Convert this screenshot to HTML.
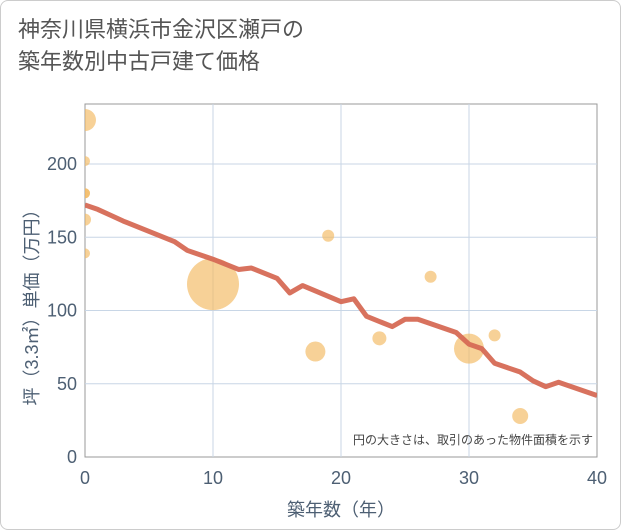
<!DOCTYPE html>
<html><head><meta charset="utf-8"><style>
body{margin:0;background:#fff;}
#wrap{position:relative;width:621px;height:530px;box-sizing:border-box;border:1px solid #ccc;border-radius:8px;overflow:hidden;font-family:"Liberation Sans","Noto Sans CJK JP",sans-serif;}
#title{position:absolute;left:17px;top:13px;font-size:22px;line-height:32px;color:#555;}
svg{position:absolute;left:0;top:0}
</style></head><body>
<div id="wrap">
<div id="title">神奈川県横浜市金沢区瀬戸の<br>築年数別中古戸建て価格</div>
<svg id="chart" width="621" height="530"><defs><clipPath id="pc"><rect x="84" y="103" width="512" height="353"/></clipPath></defs></svg>
</div>
<script>
const xTicks=[0,10,20,30,40];
const yTicks=[0,50,100,150,200];
const lineX=[0,1,2,3,7,8,10,12,13,15,16,17,20,21,22,24,25,26,29,30,31,32,34,35,36,37,40];
const lineY=[172,169,165,161,147,141,135,128,129,122,112,117,106,108,96,89,94,94,85,77,74,64,58,52,48,51,42];
const bubX=[0,0,0,0,0,0,10,18,19,23,27,30,32,34];
const bubY=[230,202,180,180,162,139,118,72,151,81,123,74,83,28];
const bubSize=[121,25,25,25,36,25,676,100,36,49,36,225,36,64];
const NS="http://www.w3.org/2000/svg";
const svg=document.getElementById('chart');
const X0=84,X1=596,Y0=456,YT=103;
const sx=v=>X0+(X1-X0)*v/40;
const sy=v=>Y0-v*(Y0-163)/200;
function mk(t,a,p){const e=document.createElementNS(NS,t);for(const k in a)e.setAttribute(k,a[k]);(p||svg).appendChild(e);return e;}
const bg=mk('rect',{x:X0,y:YT,width:X1-X0,height:Y0-YT,fill:'#fff',stroke:'#999','stroke-width':1});


xTicks.forEach(t=>{
 if(t>0&&t<40){const g=mk('line',{x1:sx(t),x2:sx(t),y1:YT,y2:Y0,stroke:'#c8d6e6','stroke-width':1});
 
 }
 const l=mk('text',{x:sx(t),y:Y0+27,'text-anchor':'middle','font-size':18,fill:'#4d5f73'});
 l.textContent=t;
 
 
});
yTicks.forEach(t=>{
 if(t>0){const g=mk('line',{x1:X0,x2:X1,y1:sy(t),y2:sy(t),stroke:'#c8d6e6','stroke-width':1});
 
 }
 const l=mk('text',{x:X0-8,y:sy(t)+6,'text-anchor':'end','font-size':18,fill:'#4d5f73'});
 l.textContent=t;
 
 
});
const grp=mk('g',{'clip-path':'url(#pc)'});


bubX.forEach((v,i)=>{
 const c=mk('circle',{cx:sx(v),cy:sy(bubY[i]),r:Math.sqrt(bubSize[i]),fill:'rgba(243,184,96,0.65)'},grp);
 
 
});
const pl=mk('polyline',{points:lineX.map((v,i)=>sx(v)+','+sy(lineY[i])).join(' '),fill:'none',stroke:'#d66a55','stroke-width':5,'stroke-linejoin':'round','stroke-opacity':0.95},grp);


const note=mk('text',{x:592,y:443,'text-anchor':'end','font-size':12,fill:'#444'});
note.textContent='円の大きさは、取引のあった物件面積を示す';


const xt=mk('text',{x:340,y:515,'text-anchor':'middle','font-size':18,fill:'#4d5f73'});
xt.textContent='築年数（年）';


const yt=mk('text',{x:0,y:0,'text-anchor':'middle','font-size':18,fill:'#4d5f73',transform:'translate(37,302) rotate(-90)'});
yt.textContent='坪（3.3㎡）単価（万円）';


</script>
</body></html>
